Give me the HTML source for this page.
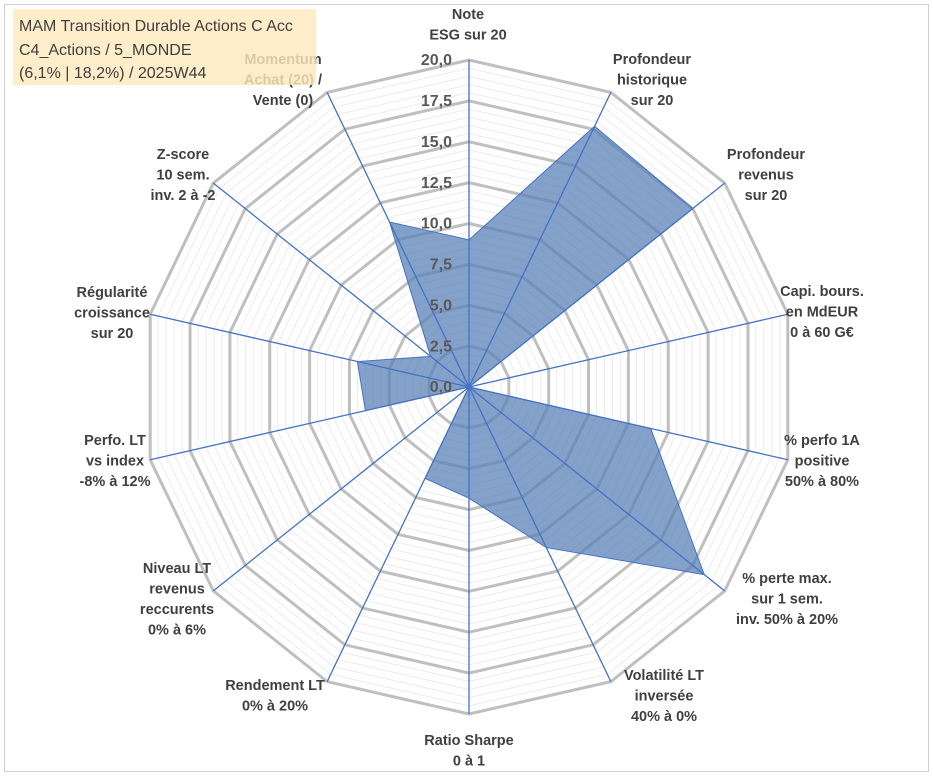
<!DOCTYPE html>
<html><head><meta charset="utf-8"><style>
body{margin:0;background:#fff;}
svg{display:block;font-family:"Liberation Sans",sans-serif;}
</style></head><body>
<svg id="chart" width="933" height="776" viewBox="0 0 933 776">
<rect x="4.5" y="4.5" width="924" height="767" fill="#fff" stroke="#d0d0d0"/>
<g id="grid"></g>
<g id="series"></g>
<g id="spokes"></g>
<g id="ticks"></g>
<g id="labels"></g>
<g>
<rect x="13" y="9" width="303" height="76" fill="#fde9bd" opacity="0.82"/>
<text x="19" y="31" font-size="16" fill="#404040">MAM Transition Durable Actions C Acc</text>
<text x="19" y="55" font-size="16" fill="#404040">C4_Actions / 5_MONDE</text>
<text x="19" y="78" font-size="16" fill="#404040">(6,1% | 18,2%) / 2025W44</text>
</g>
</svg>
<script>
const categories=[["Note","ESG sur 20"],["Profondeur","historique","sur 20"],["Profondeur","revenus","sur 20"],["Capi. bours.","en MdEUR","0 à 60 G€"],["% perfo 1A","positive","50% à 80%"],["% perte max.","sur 1 sem.","inv. 50% à 20%"],["Volatilité LT","inversée","40% à 0%"],["Ratio Sharpe","0 à 1"],["Rendement LT","0% à 20%"],["Niveau LT","revenus","reccurents","0% à 6%"],["Perfo. LT","vs index","-8% à 12%"],["Régularité","croissance","sur 20"],["Z-score","10 sem.","inv. 2 à -2"],["Momentum","Achat (20) /","Vente (0)"]];
const values=[9.0,17.7,17.5,0,11.4,18.4,10.9,6.8,6.2,0,6.5,7.0,3.0,11.2];
const tickValues=[0,2.5,5,7.5,10,12.5,15,17.5,20];
const tickLabels=["0,0","2,5","5,0","7,5","10,0","12,5","15,0","17,5","20,0"];
const labelPos=[[468,14],[652,59],[766,154],[822,291],[822,440],[787,578],[664,675],[469,740],[275,685],[177,568],[115,440],[112,292],[183,154],[283,59]];
const NS="http://www.w3.org/2000/svg";
const cx=469,cy=387,R=327,maxV=20,N=categories.length;
function rad(v){return v/maxV*R;}
function pt(i,v){const a=i*2*Math.PI/N;return [cx+rad(v)*Math.sin(a),cy-rad(v)*Math.cos(a)];}
function mk(t,attrs,parent){const e=document.createElementNS(NS,t);for(const k in attrs)e.setAttribute(k,attrs[k]);parent.appendChild(e);return e;}
const grid=document.getElementById('grid');
for(let s=0.5;s<=20.001;s+=0.5){
 const major=Math.abs(s/2.5-Math.round(s/2.5))<1e-6;
 const p=[];for(let i=0;i<N;i++)p.push(pt(i,s).join(','));
 const e=mk('polygon',{points:p.join(' '),fill:'none',stroke:major?'#bfbfbf':'#ececec','stroke-width':major?3:1},grid);
 
 
}
const ser=document.getElementById('series');
const pp=values.map((v,i)=>pt(i,v).join(',')).join(' ');
const poly=mk('polygon',{points:pp,fill:'#5b82b8','fill-opacity':'0.75',stroke:'#4472c4','stroke-width':1},ser);


const sp=document.getElementById('spokes');
for(let i=0;i<N;i++){
 const [x,y]=pt(i,20);
 const l=mk('line',{x1:cx,y1:cy,x2:x,y2:y,stroke:'#4472c4','stroke-width':1.3},sp);
 
 
}
const tk=document.getElementById('ticks');
tickValues.forEach((v,i)=>{
 const t=mk('text',{x:452,y:cy-rad(v)+1,'text-anchor':'end','dominant-baseline':'middle','font-size':16,'font-weight':'bold',fill:'#595959'},tk);
 t.textContent=tickLabels[i];
 
 
});
const lb=document.getElementById('labels');
categories.forEach((lines,i)=>{
 const g=mk('text',{'text-anchor':'middle','font-size':14.5,'font-weight':'bold',fill:'#404040'},lb);
 
 
 lines.forEach((ln,j)=>{
  const ts=mk('tspan',{x:labelPos[i][0],y:labelPos[i][1]+j*20.5+5},g);
  ts.textContent=ln;
 });
});
</script>
</body></html>
